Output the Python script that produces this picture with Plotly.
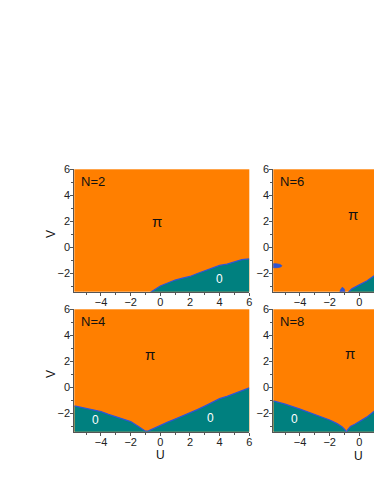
import plotly.graph_objects as go

# ---- data ----
U_MIN, U_MAX = -5.8, 6.0
V_MIN, V_MAX = -3.42, 6.0

x_ticks = [-4, -2, 0, 2, 4, 6]
y_ticks = [-2, 0, 2, 4, 6]

# N=2 boundary between phase 0 (below) and pi (above)
n2_u = [-0.7, -0.3, 0.0, 0.5, 1.0, 1.5, 2.0, 2.5, 3.0, 3.5, 4.0, 4.5, 5.0, 5.5, 6.0]
n2_v = [-3.5, -3.2, -2.98, -2.75, -2.52, -2.38, -2.25, -2.02, -1.8, -1.62, -1.4, -1.3, -1.15, -0.95, -0.9]

# N=4 boundary
n4_u = [-5.8, -5.2, -4.6, -4.0, -3.5, -3.0, -2.5, -2.0, -1.5, -1.2, -1.0, -0.8, -0.5, 0.0, 0.5, 1.0, 1.5, 2.0, 2.5, 3.0, 3.5, 4.0, 4.5, 5.0, 5.5, 6.0]
n4_v = [-1.44, -1.6, -1.72, -1.87, -2.08, -2.26, -2.45, -2.64, -3.0, -3.25, -3.38, -3.36, -3.2, -2.9, -2.68, -2.45, -2.22, -2.0, -1.72, -1.45, -1.15, -0.88, -0.7, -0.5, -0.3, -0.05]

# N=6 boundary and small islands of phase 0
n6_u = [-0.77, -0.5, 0.0, 0.5, 1.0, 2.0, 3.0, 4.0, 5.0, 6.0]
n6_v = [-3.5, -3.2, -2.9, -2.6, -2.2, -1.8, -1.45, -1.15, -0.9, -0.7]
n6_isl1_u = [-5.9, -5.6, -5.35, -5.22, -5.3, -5.55, -5.9]
n6_isl1_v = [-1.28, -1.27, -1.32, -1.42, -1.52, -1.57, -1.57]
n6_isl2_u = [-1.32, -1.26, -1.15, -1.02, -0.96, -1.32]
n6_isl2_v = [-3.5, -3.25, -3.08, -3.2, -3.5, -3.5]

# N=8 boundary
n8_u = [-5.8, -5.0, -4.0, -3.0, -2.0, -1.5, -1.15, -0.95, -0.88, -0.8, -0.6, -0.3, 0.0, 0.5, 1.0, 2.0, 3.0, 4.0, 5.0, 6.0]
n8_v = [-1.05, -1.3, -1.68, -2.1, -2.52, -2.8, -3.05, -3.3, -3.5, -3.3, -3.02, -2.85, -2.64, -2.3, -1.85, -1.4, -1.0, -0.6, -0.2, 0.2]

panel_names = ["N=2", "N=6", "N=4", "N=8"]
panel_u = [n2_u, n6_u, n4_u, n8_u]
panel_v = [n2_v, n6_v, n4_v, n8_v]
pi_pos = [(-0.2, 2.0), (-0.45, 2.5), (-0.7, 2.5), (-0.65, 2.6)]
zero_pos = [[(4.0, -2.45)], [], [(-4.4, -2.52), (3.35, -2.35)], [(-4.35, -2.42)]]

# ---- style ----
ORANGE = "#FF7F00"
TEAL = "#00807F"
BLUE = "#2F55D4"
FONT = "Arial, Liberation Sans, sans-serif"

W, H = 374, 484
# pixel boxes (left, right, top, bottom)
boxes = [
    (74.3, 249.3, 169.3, 291.7),
    (273.3, 374.0, 169.3, 291.7),
    (74.3, 249.3, 309.3, 431.7),
    (273.3, 374.0, 309.3, 431.7),
]
px_per_u = (249.3 - 74.3) / (U_MAX - U_MIN)


def fx(px):
    return px / W


def fy(py):
    return 1 - py / H


fig = go.Figure()
annotations = []
layout = {}

for i in range(4):
    name, bu, bv = panel_names[i], panel_u[i], panel_v[i]
    l, r, t, b = boxes[i]
    k = "" if i == 0 else str(i + 1)
    xa, ya = "x" + k, "y" + k
    umax = U_MIN + (r - l) / px_per_u
    poly_u = list(bu) + [bu[-1], bu[0]]
    poly_v = list(bv) + [V_MIN - 1, V_MIN - 1]
    fig.add_trace(go.Scatter(x=poly_u, y=poly_v, fill="toself", fillcolor=TEAL,
                             mode="lines", line=dict(width=0), xaxis=xa, yaxis=ya,
                             hoverinfo="skip", showlegend=False))
    fig.add_trace(go.Scatter(x=bu, y=bv, mode="lines", line=dict(color=BLUE, width=1.3),
                             xaxis=xa, yaxis=ya, hoverinfo="skip", showlegend=False))
    if name == "N=6":
        for iu, iv in ((n6_isl1_u, n6_isl1_v), (n6_isl2_u, n6_isl2_v)):
            fig.add_trace(go.Scatter(x=iu, y=iv, fill="toself", fillcolor=BLUE,
                                     mode="lines", line=dict(width=0.8, color=BLUE),
                                     xaxis=xa, yaxis=ya, hoverinfo="skip", showlegend=False))
    axis_common = dict(showgrid=False, zeroline=False, showline=True, linecolor="#555555",
                       linewidth=1, ticks="outside", ticklen=3, tickwidth=1, tickcolor="#555555",
                       automargin=False,
                       tickfont=dict(family=FONT, size=11, color="#222222"),
                       minor=dict(ticks="outside", ticklen=2, dtick=1, tickcolor="#555555"))
    layout["xaxis" + k] = dict(axis_common, domain=[fx(l), min(fx(r), 1.0)], range=[U_MIN, umax],
                               tickvals=x_ticks, anchor=ya, ticklabelstandoff=-3)
    layout["yaxis" + k] = dict(axis_common, domain=[fy(b), fy(t)], range=[V_MIN, V_MAX],
                               tickvals=y_ticks, anchor=xa, ticklabelstandoff=-2)
    annotations.append(dict(x=0, y=1, xref=xa + " domain", yref=ya + " domain", text=name,
                            showarrow=False, xanchor="left", yanchor="top", xshift=5, yshift=-3,
                            font=dict(family=FONT, size=13, color="#111111")))
    annotations.append(dict(x=pi_pos[i][0], y=pi_pos[i][1], xref=xa, yref=ya, text="π",
                            showarrow=False, xanchor="center", yanchor="middle",
                            font=dict(family=FONT, size=15, color="#111111")))
    for zu, zv in zero_pos[i]:
        annotations.append(dict(x=zu, y=zv, xref=xa, yref=ya, text="0", showarrow=False,
                                xanchor="center", yanchor="middle",
                                font=dict(family=FONT, size=12, color="#FFFFFF")))

# axis titles
title_font = dict(family=FONT, size=12, color="#111111")
for tx, ty, txt, ang in ((51, 234, "V", -90), (51, 374, "V", -90),
                         (160, 455, "U", 0), (358.5, 456, "U", 0)):
    annotations.append(dict(x=fx(tx), y=fy(ty), xref="paper", yref="paper", text=txt,
                            textangle=ang, showarrow=False, xanchor="center", yanchor="middle",
                            font=title_font))

fig.update_layout(width=W, height=H, autosize=False, margin=dict(l=0, r=0, t=0, b=0, pad=0),
                  paper_bgcolor="white", plot_bgcolor=ORANGE, showlegend=False,
                  annotations=annotations, **layout)

fig.write_html("out.html", config={"displayModeBar": False, "responsive": False},
               post_script="document.documentElement.style.overflow='hidden';"
                           "document.body.style.overflow='hidden';"
                           "document.body.style.margin='0';")
